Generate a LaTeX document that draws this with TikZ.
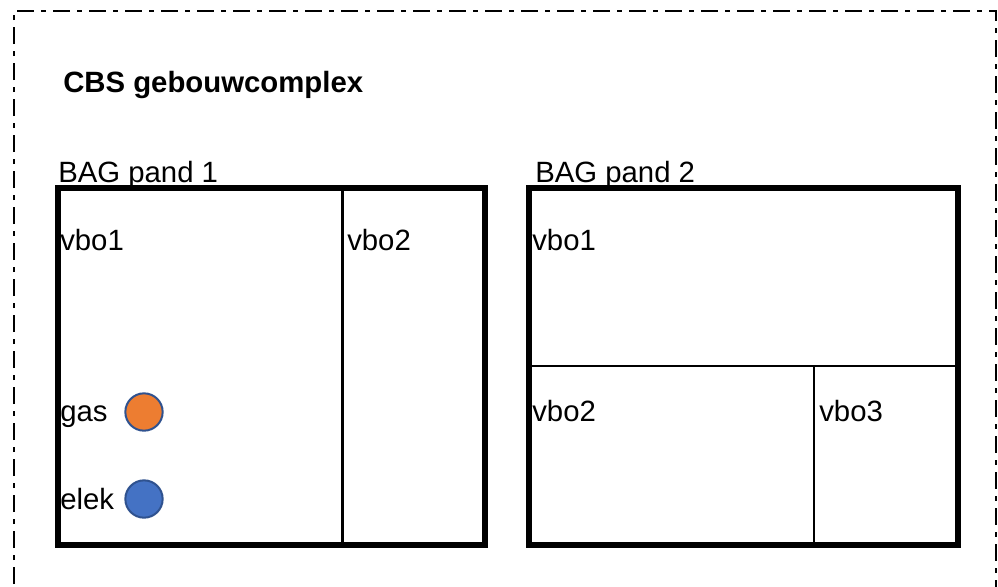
\documentclass[tikz,border=0pt]{standalone}
\usepackage{fontspec}
\setmainfont{Liberation Sans}
\usetikzlibrary{positioning}
\definecolor{gasOrange}{RGB}{237,125,49}
\definecolor{elekBlue}{RGB}{68,114,196}
\definecolor{meterRim}{RGB}{47,82,143}
\tikzset{
    complex/.style={draw=black,line width=1.6pt,dash pattern=on 12.75pt off 5.25pt on 3.75pt off 5.25pt},
    pand/.style={draw=black,line width=4.5pt},
    wall/.style={draw=black,line width=2pt},
    lbl/.style={font=\fontsize{22}{26}\selectfont,inner sep=0pt,anchor=base west},
    title/.style={lbl,font=\fontsize{22}{26}\selectfont\bfseries},
    meter/.style={circle,draw=meterRim,line width=1.5pt,minimum size=28pt,inner sep=0pt}
}

\begin{document}
\begin{tikzpicture}[x=0.75pt,y=-0.75pt]
    \useasboundingbox (0,0) rectangle (998,586);
    \clip (0,0) rectangle (998,586);

    % gebouwcomplex
    \draw[complex] (14,620) -- (14,11) -- (996,11) -- (996,620);
    \node[title] (cbs) at (63,92) {CBS gebouwcomplex};

    % pand 1
    \node[lbl] (pand1lbl) at (58,182) {BAG pand 1};
    \draw[wall] (342.5,188) -- (342.5,545);
    \draw[pand] (58,188) rectangle (485,545);
    \node[lbl] (p1vbo1) at (60,250) {vbo1};
    \node[lbl] (p1vbo2) at (347,250) {vbo2};
    \node[lbl] (gaslbl) at (60,421) {gas};
    \node[meter,fill=gasOrange] (gas) at (144,412) {};
    \node[lbl] (eleklbl) at (60,509) {elek};
    \node[meter,fill=elekBlue] (elek) at (144,499) {};

    % pand 2
    \node[lbl] (pand2lbl) at (535,182) {BAG pand 2};
    \draw[wall] (529,366) -- (958,366);
    \draw[wall] (814,366) -- (814,545);
    \draw[pand] (529,188) rectangle (958,545);
    \node[lbl] (p2vbo1) at (532,250) {vbo1};
    \node[lbl] (p2vbo2) at (532,421) {vbo2};
    \node[lbl] (p2vbo3) at (819,421) {vbo3};
\end{tikzpicture}
\end{document}
